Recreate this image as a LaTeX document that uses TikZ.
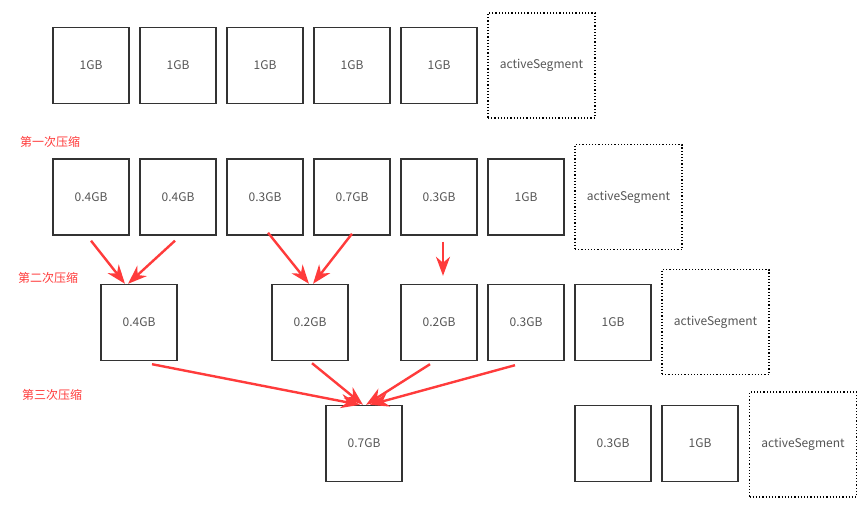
\documentclass[tikz,border=0pt]{standalone}
\usepackage{fontspec}
\setmainfont{Noto Sans CJK SC}
\usetikzlibrary{arrows.meta}
\definecolor{segline}{HTML}{333333}
\definecolor{segtext}{HTML}{555555}
\definecolor{cutred}{HTML}{FF3B3B}
\tikzset{
  seg/.style={draw=segline,line width=1.4pt,minimum width=76pt,minimum height=76pt,
    inner sep=0pt,text=segtext,font=\fontsize{12pt}{14pt}\selectfont},
  active/.style={seg,draw=black,line width=1.2pt,dotted,minimum width=107pt,minimum height=105pt},
  roundlabel/.style={anchor=west,inner sep=0pt,text=cutred,font=\fontsize{12pt}{14pt}\selectfont},
  merge/.style={draw=cutred,line width=2.4pt,-{Stealth[length=19pt,width=14pt,inset=6pt]}}
}
\begin{document}
\begin{tikzpicture}[x=1pt,y=-1pt]
        \useasboundingbox (0,0) rectangle (865,511);
        %% before any compaction
        \node[seg] (s11) at (91,65.5) {1GB};
        \node[seg] (s12) at (178,65.5) {1GB};
        \node[seg] (s13) at (265,65.5) {1GB};
        \node[seg] (s14) at (352,65.5) {1GB};
        \node[seg] (s15) at (439,65.5) {1GB};
        \node[active] (a1) at (541.5,65.5) {activeSegment};
        %% first round
        \node[roundlabel] (l1) at (20,142) {第一次压缩};
        \node[seg] (s21) at (91,197) {0.4GB};
        \node[seg] (s22) at (178,197) {0.4GB};
        \node[seg] (s23) at (265,197) {0.3GB};
        \node[seg] (s24) at (352,197) {0.7GB};
        \node[seg] (s25) at (439,197) {0.3GB};
        \node[seg] (s26) at (526,197) {1GB};
        \node[active] (a2) at (628.5,197) {activeSegment};
        %% second round
        \node[roundlabel] (l2) at (18,278) {第二次压缩};
        \node[seg] (s31) at (139,322.5) {0.4GB};
        \node[seg] (s32) at (310,322.5) {0.2GB};
        \node[seg] (s33) at (439,322.5) {0.2GB};
        \node[seg] (s34) at (526,322.5) {0.3GB};
        \node[seg] (s35) at (613,322.5) {1GB};
        \node[active] (a3) at (715.5,322) {activeSegment};
        %% third round
        \node[roundlabel] (l3) at (22,395) {第三次压缩};
        \node[seg] (s41) at (364,443.5) {0.7GB};
        \node[seg] (s42) at (613,443.5) {0.3GB};
        \node[seg] (s43) at (700,443.5) {1GB};
        \node[active] (a4) at (803,444.5) {activeSegment};
        %% merges
        \coordinate (h33) at ([xshift=4pt,yshift=8pt]s33.north);
        \draw[merge] ([yshift=-5pt]s21.south) -- ([xshift=-14pt]s31.north);
        \draw[merge] ([xshift=-3pt,yshift=-5pt]s22.south) -- ([xshift=-11pt]s31.north);
        \draw[merge] ([xshift=3pt,yshift=3pt]s23.south) -- ([xshift=-1pt]s32.north);
        \draw[merge] ([yshift=2pt]s24.south) -- ([xshift=3pt]s32.north);
        \draw[merge] ([xshift=4pt,yshift=-6pt]s25.south) -- (h33);
        \draw[merge] ([xshift=13pt,yshift=-3pt]s31.south) -- ([xshift=-4pt]s41.north);
        \draw[merge] ([xshift=2pt,yshift=-2pt]s32.south) -- ([xshift=-1pt]s41.north);
        \draw[merge] ([xshift=-9pt,yshift=-3pt]s33.south) -- ([xshift=2pt]s41.north);
        \draw[merge] ([xshift=-11pt,yshift=-4pt]s34.south) -- ([xshift=6pt]s41.north);
    \end{tikzpicture}
\end{document}
